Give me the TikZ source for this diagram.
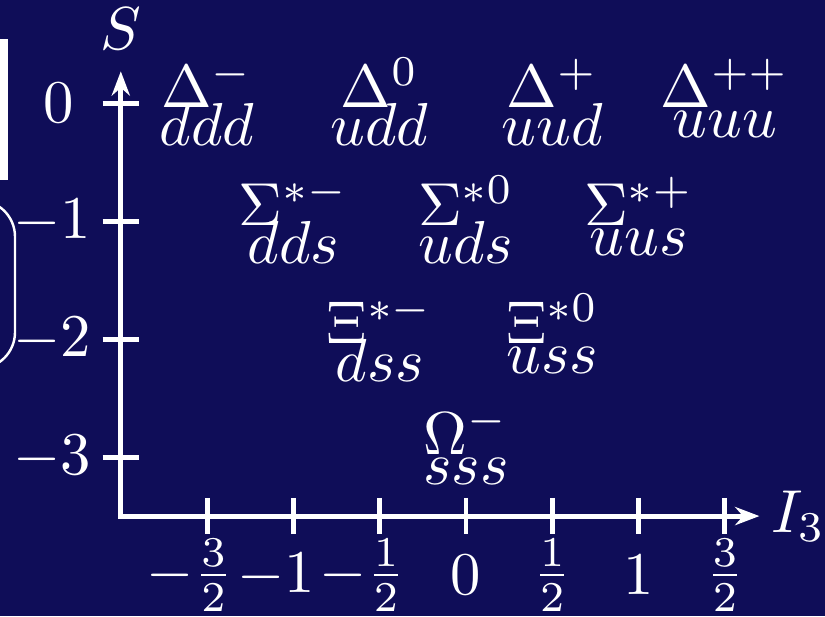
\documentclass[tikz,border=0pt]{standalone}
\usepackage{xcolor}
\usepackage{tikz}
\usetikzlibrary{arrows.meta}
\definecolor{slidebg}{RGB}{15,13,88}
\tikzset{
  axis/.style={
    {Stealth[length=4pt,width=3pt]}-{Stealth[length=4pt,width=3pt]},
    thick, draw=white
  },
  tick/.style={thick, draw=white},
  hadron/.style={text=white, yshift=3.3pt},
  quarks/.style={text=white, yshift=-3.5pt},
  ticklabel/.style={text=white},
  frameedge/.style={draw=white, line width=0.4pt},
}

\begin{document}
\begin{tikzpicture}[x=1cm, y=0.6835cm]
    \useasboundingbox (-2.7,-4.35) rectangle (2.08,0.875);
    \fill[slidebg] (-2.7,-4.35) rectangle (2.08,0.875);
    \clip (-2.7,-4.35) rectangle (2.08,0.875);

    % pieces of the slide on the left
    \fill[white] (-2.75,0.546) rectangle (-2.654,-0.651);
    \draw[frameedge, rounded corners=6pt] (-3,-0.823) rectangle (-2.613,-2.25);

    % axes
    \coordinate (orig) at (-2,-3.5);
    \coordinate (iend) at (1.7,-3.5);
    \coordinate (send) at (-2,0.27);
    \draw[axis] (send) -- (orig) -- (iend);
    \node[right, text=white, inner sep=1.8pt] (ilab) at (iend) {$I_3$};
    \node[above, text=white] (slab) at (send) {$S$};

    \foreach \x in {-1.5,-1,...,1.5}
      \draw[tick] (\x,-3.5) ++(0,3pt) -- ++(0,-6pt);
    \foreach \s in {0,-1,-2,-3}
      \draw[tick] (-2,\s) ++(-3pt,0) -- ++(6pt,0);

    \foreach \x/\lab [count=\i] in {-1.6/{$-\frac{3}{2}$}, -1.1/{$-1$}, -0.6/{$-\frac{1}{2}$},
        0/{$0$}, 0.5/{$\frac{1}{2}$}, 1/{$1$}, 1.5/{$\frac{3}{2}$}}
      \node[ticklabel] (xl\i) at (\x,-4) {\lab};
    \node[ticklabel] (yl0) at (-2.358,0) {$0$};
    \foreach \s in {1,2,3}
      \node[ticklabel] (yl\s) at (-2.4,-\s) {$-\s$};

    % decuplet
    \node[hadron] (dm) at (-1.5,0) {$\Delta^-$};
    \node[quarks] (dmq) at (-1.5,0) {$ddd$};
    \node[hadron] (dz) at (-0.5,0) {$\Delta^0$};
    \node[quarks] (dzq) at (-0.5,0) {$udd$};
    \node[hadron] (dp) at (0.5,0) {$\Delta^+$};
    \node[quarks] (dpq) at (0.5,0) {$uud$};
    \node[hadron] (dpp) at (1.5,0) {$\Delta^{++}$};
    \node[quarks] (dppq) at (1.5,0) {$uuu$};

    \node[hadron] (sm) at (-1,-1) {$\Sigma^{*-}$};
    \node[quarks] (smq) at (-1,-1) {$dds$};
    \node[hadron] (sz) at (0,-1) {$\Sigma^{*0}$};
    \node[quarks] (szq) at (0,-1) {$uds$};
    \node[hadron] (sp) at (1,-1) {$\Sigma^{*+}$};
    \node[quarks] (spq) at (1,-1) {$uus$};

    \node[hadron] (xm) at (-0.5,-2) {$\Xi^{*-}$};
    \node[quarks] (xmq) at (-0.5,-2) {$dss$};
    \node[hadron] (xz) at (0.5,-2) {$\Xi^{*0}$};
    \node[quarks] (xzq) at (0.5,-2) {$uss$};

    \node[hadron] (om) at (0,-2.94) {$\Omega^-$};
    \node[quarks] (omq) at (0,-2.94) {$sss$};
\end{tikzpicture}
\end{document}
